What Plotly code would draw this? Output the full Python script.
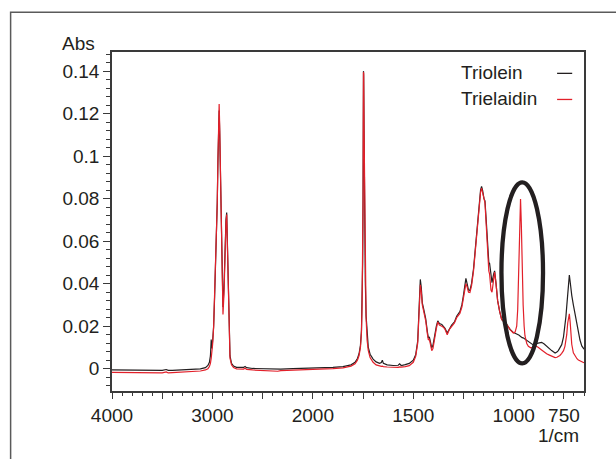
import numpy as np
import plotly.graph_objects as go

# ---------------- data ----------------
wavenumber = [
    4000, 3900, 3800, 3700, 3600, 3500, 3460, 3440, 3400, 3300, 3200, 3120, 3070, 3045, 3030, 3020,
    3012, 3006, 2998, 2988, 2978, 2968, 2960, 2952, 2945, 2938, 2933, 2928, 2920, 2912, 2904, 2895,
    2885, 2875, 2865, 2858, 2852, 2845, 2836, 2825, 2810, 2790, 2760, 2720, 2690, 2675, 2660, 2600,
    2500, 2400, 2350, 2320, 2200, 2100, 2000, 1900, 1850, 1810, 1790, 1778, 1770, 1763, 1758, 1755,
    1752, 1750, 1749, 1748, 1747, 1745, 1742, 1739, 1735, 1730, 1724, 1715, 1700, 1685, 1668, 1659,
    1654, 1649, 1630, 1600, 1575, 1568, 1560, 1540, 1520, 1500, 1488, 1478, 1470, 1465, 1460, 1455,
    1447, 1438, 1430, 1425, 1420, 1415, 1408, 1402, 1395, 1385, 1378, 1370, 1358, 1350, 1342, 1331,
    1320, 1309, 1295, 1284, 1268, 1258, 1251, 1243, 1238, 1232, 1225, 1218, 1210, 1200, 1193, 1183,
    1173, 1165, 1160, 1155, 1148, 1143, 1137, 1130, 1124, 1120, 1113, 1108, 1100, 1095, 1088, 1080,
    1070, 1060, 1043, 1035, 1018, 1010, 1002, 993, 985, 980, 975, 970, 966, 962, 958, 953,
    948, 944, 935, 927, 915, 903, 890, 880, 861, 848, 836, 822, 811, 794, 785, 778,
    770, 761, 752, 745, 740, 736, 731, 727, 723, 719, 715, 711, 703, 695, 685, 678,
    670, 661, 653, 650,
]

triolein = [
    -0.0006, -0.0007, -0.0008, -0.0009, -0.0009, -0.0008, -0.0004, -0.0008, -0.0008, -0.0006, -0.0004, -0.0001, 0.0005, 0.0015, 0.0030, 0.0060,
    0.0137, 0.0095, 0.0130, 0.0200, 0.0340, 0.0480, 0.0620, 0.0780, 0.0980, 0.1150, 0.1215, 0.1120, 0.0900, 0.0650, 0.0420, 0.0290,
    0.0380, 0.0585, 0.0700, 0.0735, 0.0600, 0.0380, 0.0170, 0.0060, 0.0025, 0.0012, 0.0006, 0.0004, 0.0006, 0.0010, 0.0005, 0.0001,
    -0.0001, -0.0001, -0.0004, -0.0002, 0.0000, 0.0001, 0.0002, 0.0006, 0.0010, 0.0018, 0.0030, 0.0048, 0.0070, 0.0110, 0.0180, 0.0300,
    0.0500, 0.0800, 0.1150, 0.1400, 0.1380, 0.1120, 0.0700, 0.0420, 0.0250, 0.0150, 0.0100, 0.0068, 0.0045, 0.0032, 0.0025, 0.0029,
    0.0040, 0.0025, 0.0018, 0.0015, 0.0016, 0.0023, 0.0015, 0.0019, 0.0025, 0.0040, 0.0065, 0.0130, 0.0280, 0.0420, 0.0380, 0.0310,
    0.0275, 0.0235, 0.0175, 0.0145, 0.0150, 0.0120, 0.0098, 0.0110, 0.0150, 0.0200, 0.0225, 0.0212, 0.0208, 0.0200, 0.0190, 0.0168,
    0.0190, 0.0205, 0.0220, 0.0247, 0.0268, 0.0300, 0.0340, 0.0400, 0.0425, 0.0400, 0.0370, 0.0368, 0.0400, 0.0470, 0.0540, 0.0650,
    0.0770, 0.0840, 0.0858, 0.0840, 0.0800, 0.0790, 0.0700, 0.0580, 0.0500, 0.0495, 0.0420, 0.0405, 0.0445, 0.0460, 0.0400, 0.0320,
    0.0270, 0.0232, 0.0215, 0.0208, 0.0185, 0.0176, 0.0170, 0.0167, 0.0165, 0.0162, 0.0159, 0.0155, 0.0151, 0.0148, 0.0146, 0.0145,
    0.0142, 0.0139, 0.0133, 0.0129, 0.0120, 0.0112, 0.0118, 0.0121, 0.0124, 0.0116, 0.0105, 0.0094, 0.0085, 0.0074, 0.0078, 0.0085,
    0.0097, 0.0113, 0.0150, 0.0198, 0.0245, 0.0293, 0.0370, 0.0425, 0.0440, 0.0410, 0.0370, 0.0345, 0.0300, 0.0255, 0.0205, 0.0175,
    0.0135, 0.0107, 0.0094, 0.0092,
]

trielaidin = [
    -0.0017, -0.0018, -0.0019, -0.0020, -0.0021, -0.0020, -0.0015, -0.0020, -0.0019, -0.0017, -0.0014, -0.0011, -0.0006, 0.0000, 0.0010, 0.0025,
    0.0050, 0.0075, 0.0115, 0.0195, 0.0330, 0.0470, 0.0610, 0.0780, 0.0990, 0.1180, 0.1245, 0.1150, 0.0920, 0.0650, 0.0400, 0.0255,
    0.0350, 0.0575, 0.0690, 0.0725, 0.0590, 0.0370, 0.0160, 0.0050, 0.0018, 0.0005, -0.0001, -0.0003, -0.0002, 0.0002, -0.0003, -0.0006,
    -0.0008, -0.0009, -0.0012, -0.0009, -0.0006, -0.0004, -0.0003, 0.0000, 0.0004, 0.0012, 0.0023, 0.0040, 0.0062, 0.0100, 0.0170, 0.0290,
    0.0490, 0.0790, 0.1140, 0.1395, 0.1390, 0.1130, 0.0710, 0.0420, 0.0240, 0.0135, 0.0085, 0.0052, 0.0030, 0.0018, 0.0012, 0.0011,
    0.0012, 0.0010, 0.0008, 0.0006, 0.0006, 0.0008, 0.0007, 0.0010, 0.0014, 0.0030, 0.0058, 0.0120, 0.0260, 0.0395, 0.0360, 0.0300,
    0.0265, 0.0225, 0.0165, 0.0135, 0.0140, 0.0110, 0.0085, 0.0095, 0.0140, 0.0190, 0.0220, 0.0205, 0.0200, 0.0195, 0.0185, 0.0160,
    0.0185, 0.0200, 0.0215, 0.0240, 0.0260, 0.0290, 0.0330, 0.0380, 0.0400, 0.0385, 0.0360, 0.0358, 0.0390, 0.0460, 0.0530, 0.0640,
    0.0760, 0.0830, 0.0850, 0.0830, 0.0790, 0.0780, 0.0680, 0.0550, 0.0460, 0.0445, 0.0370, 0.0360, 0.0435, 0.0455, 0.0400, 0.0320,
    0.0270, 0.0232, 0.0216, 0.0208, 0.0184, 0.0176, 0.0168, 0.0172, 0.0200, 0.0280, 0.0450, 0.0660, 0.0798, 0.0680, 0.0480, 0.0300,
    0.0200, 0.0155, 0.0118, 0.0105, 0.0098, 0.0100, 0.0106, 0.0102, 0.0088, 0.0078, 0.0070, 0.0064, 0.0060, 0.0052, 0.0054, 0.0057,
    0.0062, 0.0072, 0.0085, 0.0105, 0.0130, 0.0160, 0.0215, 0.0250, 0.0258, 0.0220, 0.0160, 0.0115, 0.0075, 0.0060, 0.0047, 0.0041,
    0.0036, 0.0032, 0.0029, 0.0028,
]

series_names = ["Triolein", "Trielaidin"]
tick_wavenumbers = [4000, 3500, 3000, 2500, 2000, 1750, 1500, 1250, 1000, 750]
tick_labels = ["4000", "", "3000", "", "2000", "", "1500", "", "1000", "750"]
y_tick_values = [0, 0.02, 0.04, 0.06, 0.08, 0.1, 0.12, 0.14]
y_tick_labels = ["0", "0.02", "0.04", "0.06", "0.08", "0.1", "0.12", "0.14"]


# ---------------- axis transform: the spectrum axis is doubled in scale below 2000 1/cm ----
def to_axis(w):
    w = np.asarray(w, dtype=float)
    return np.where(w >= 2000, 4000 - w, 6000 - 2 * w)


INK = "#231f20"
RED = "#e2202a"
FONT = "Liberation Sans, Arial, Helvetica, sans-serif"

fig = go.Figure()
fig.add_trace(go.Scatter(x=to_axis(wavenumber), y=triolein, mode="lines", name=series_names[0],
                         line=dict(color=INK, width=1.2), showlegend=False))
fig.add_trace(go.Scatter(x=to_axis(wavenumber), y=trielaidin, mode="lines", name=series_names[1],
                         line=dict(color=RED, width=1.2), showlegend=False))

# ellipse marking the trans band
ex = to_axis([1061, 854])
fig.add_shape(type="circle", xref="x", yref="y", x0=float(ex[0]), x1=float(ex[1]),
              y0=0.0025, y1=0.0877, line=dict(color=INK, width=4.3))

# outer frame of the figure
fig.add_shape(type="rect", xref="paper", yref="paper", x0=-0.2148, x1=1.2, y0=-0.4, y1=1.117,
              line=dict(color="#5a5a5a", width=1.5), layer="below")

# legend drawn as text + line samples (sample on the right)
leg_y = [0.939, 0.862]
for name, yy, col in zip(series_names, leg_y, [INK, RED]):
    fig.add_annotation(xref="paper", yref="paper", x=0.735, y=yy, text=name, showarrow=False,
                       xanchor="left", yanchor="middle", font=dict(size=19, color=INK, family=FONT))
    fig.add_shape(type="line", xref="paper", yref="paper", x0=0.943, x1=0.975, y0=yy - 0.002, y1=yy - 0.002,
                  line=dict(color=col, width=1.3))

fig.add_annotation(xref="paper", yref="paper", x=-0.0703, y=1.0257, text="Abs", showarrow=False,
                   xanchor="center", yanchor="middle", font=dict(size=19, color=INK, family=FONT))
fig.add_annotation(xref="paper", yref="paper", x=0.9947, y=-0.1298, text="1/cm", showarrow=False,
                   xanchor="right", yanchor="middle", font=dict(size=19, color=INK, family=FONT))

fig.update_xaxes(range=[0, 4700], tickmode="array", tickvals=to_axis(tick_wavenumbers).tolist(),
                 ticktext=tick_labels, ticks="outside", ticklen=6, tickwidth=1.2, tickcolor="#3a3a3a",
                 minor=dict(tickmode="linear", tick0=0, dtick=100, ticks="outside", ticklen=3,
                            tickwidth=1, tickcolor="#3a3a3a"),
                 showline=True, mirror=True, linecolor="#3a3a3a", linewidth=1.5,
                 showgrid=False, zeroline=False,
                 tickfont=dict(size=19, color=INK, family=FONT))
fig.update_yaxes(range=[-0.0105, 0.149], tickmode="array", tickvals=y_tick_values, ticktext=y_tick_labels,
                 ticks="outside", ticklen=7, tickwidth=1.2, tickcolor="#3a3a3a",
                 minor=dict(tickmode="linear", tick0=0, dtick=0.004, ticks="outside", ticklen=4,
                            tickwidth=1, tickcolor="#3a3a3a"),
                 showline=True, mirror=True, linecolor="#3a3a3a", linewidth=1.5,
                 showgrid=False, zeroline=False,
                 tickfont=dict(size=19, color=INK, family=FONT))

fig.update_layout(width=616, height=459, margin=dict(l=112, r=32, t=52, b=68),
                  paper_bgcolor="white", plot_bgcolor="white", showlegend=False,
                  font=dict(family=FONT, color=INK))

fig.write_html("out.html")
